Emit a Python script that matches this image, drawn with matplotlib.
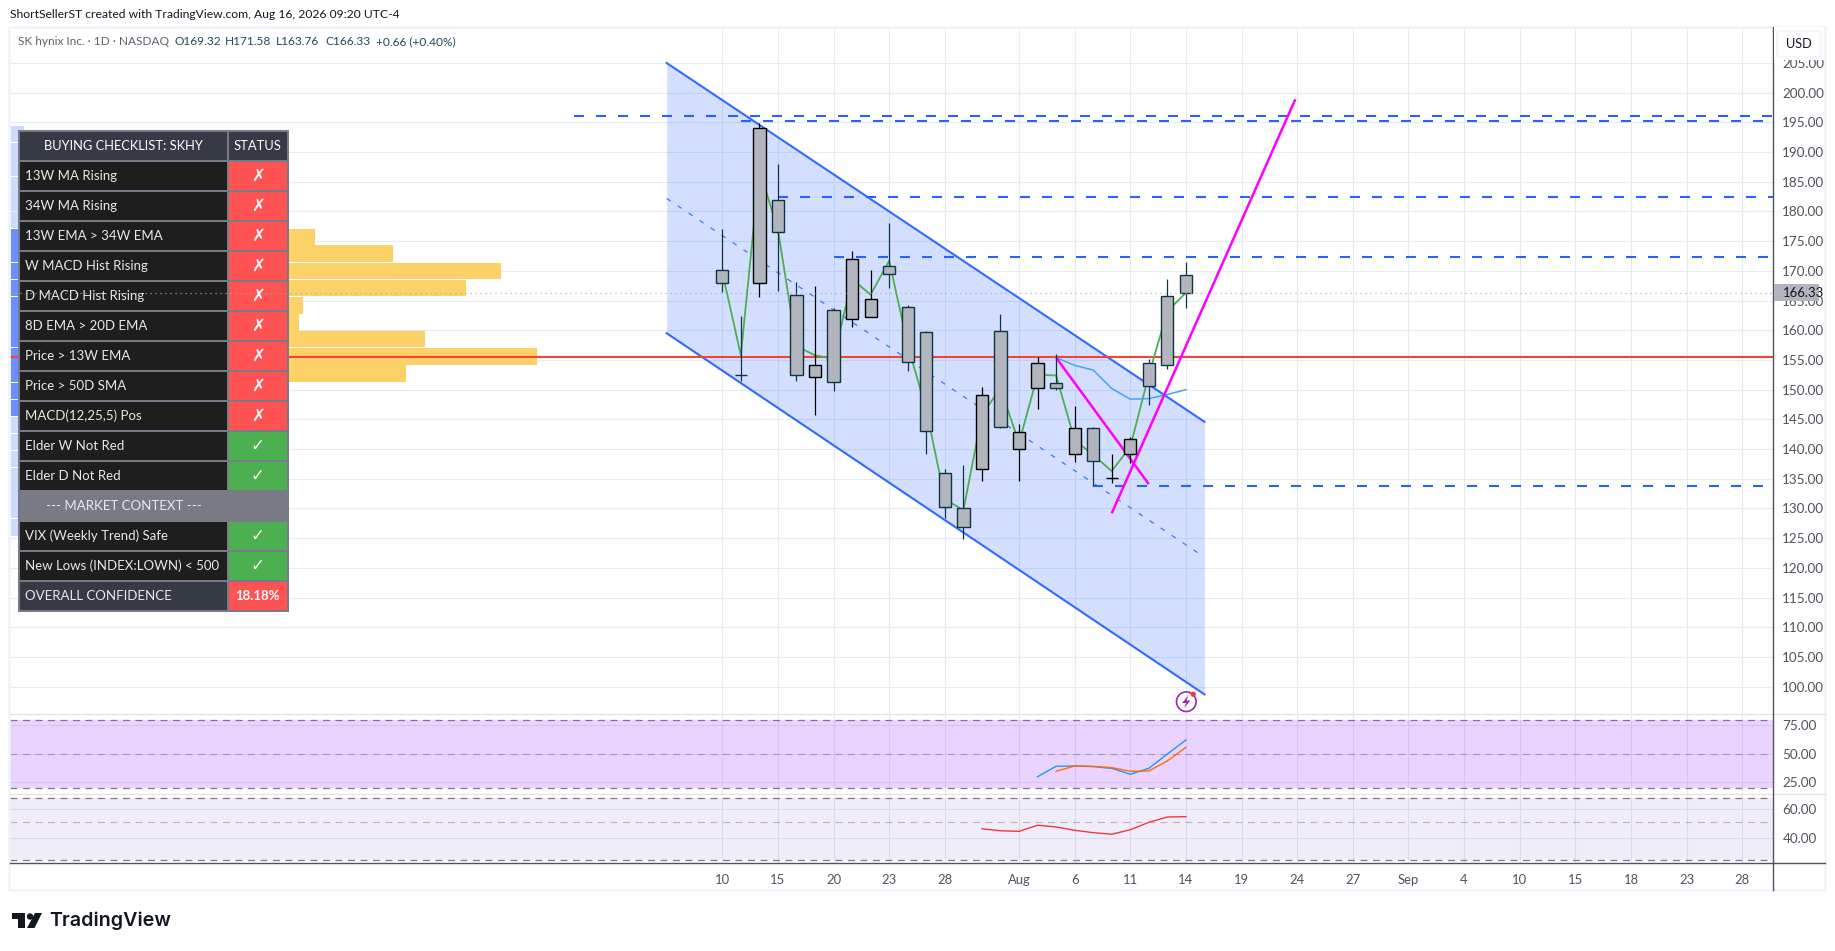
# skhy_chart.py
# TradingView style chart of SK hynix with the buying checklist table

import numpy as np
import matplotlib
matplotlib.use('Agg')
import matplotlib.pyplot as plt
from matplotlib.patches import Rectangle, Circle, Polygon, FancyBboxPatch
from matplotlib.ticker import FormatStrFormatter

# --- Data ---
bar_idx = list(range(26))
opens = [170.15, 152.5, 168.0, 181.9, 165.9, 152.1, 163.4, 161.85, 162.2, 170.8, 163.9, 159.66, 135.9,
         130.0, 136.6, 159.8, 140.0, 150.25, 151.1, 139.1, 143.5, 135.1, 139.2, 154.45, 165.7, 169.32]
highs = [177.05, 162.4, 194.85, 188.0, 168.2, 167.5, 163.75, 173.35, 170.15, 178.0, 164.25, 159.8, 136.65,
         137.3, 150.45, 162.75, 144.2, 155.55, 156.0, 147.25, 143.7, 139.1, 142.1, 155.15, 168.65, 171.58]
lows = [166.45, 151.5, 165.65, 166.67, 151.5, 145.8, 149.8, 160.6, 162.2, 167.2, 153.2, 139.2, 128.4,
        124.9, 134.7, 143.6, 134.7, 146.8, 149.95, 137.9, 133.8, 134.35, 137.6, 147.5, 153.5, 163.76]
closes = [168.0, 152.45, 194.0, 176.5, 152.4, 154.1, 151.25, 172.0, 165.2, 169.5, 154.6, 143.0, 130.2,
          126.8, 149.06, 143.8, 142.8, 154.45, 150.25, 143.5, 137.95, 135.15, 141.65, 150.7, 154.1, 166.33]
line_vals = [169.8, 155.8, 187.0, 176.9, 157.3, 155.8, 155.2, 168.6, 166.0, 171.7, 157.5, 146.6, 131.6,
             129.7, 145.7, 150.3, 141.0, 152.5, 152.4, 141.5, 139.0, 136.3, 140.4, 152.5, 163.2, 166.33]

ma_idx = [18, 19, 20, 21, 22, 23, 24, 25]
ma_vals = [155.4, 154.1, 153.3, 150.2, 148.4, 148.5, 149.2, 150.0]

stoch_k_idx = [17, 18, 19, 20, 21, 22, 23, 24, 25]
stoch_k = [30.1, 39.2, 39.5, 38.9, 37.4, 32.2, 37.4, 50.0, 62.3]
stoch_d_idx = [18, 19, 20, 21, 22, 23, 24, 25]
stoch_d = [34.8, 39.5, 39.2, 38.0, 34.8, 35.1, 43.9, 55.9]
rsi_idx = [14, 15, 16, 17, 18, 19, 20, 21, 22, 23, 24, 25]
rsi_vals = [46.6, 45.2, 44.8, 49.0, 47.8, 45.5, 43.9, 42.8, 45.9, 51.0, 54.7, 54.9]

# drawn objects: (bar start, bar end, price)
level_lines = [(-8, 56.7, 196.1), (1, 56.1, 195.3), (3, 56.7, 182.45), (6, 56.4, 172.4), (20, 56.2, 133.8)]
red_level = 155.5
channel_x = [-3, 26]
channel_top = [205.0, 144.6]
channel_mid = [182.2, 121.8]
channel_low = [159.5, 98.7]
magenta_1_x, magenta_1_p = [18, 23], [155.4, 134.1]
magenta_2_x, magenta_2_p = [21, 30.9], [129.2, 198.9]

# volume profile, k = row from the top
vp_levels = [193.0, 190.1, 187.3, 184.4, 181.5, 178.6, 175.7, 172.9, 170.0, 167.1, 164.2, 161.3,
             158.5, 155.6, 152.7, 149.8, 146.9, 144.1, 141.2, 138.3, 135.4, 132.5, 129.7, 126.8]
vp_blue = [13] * 6 + [30] * 11 + [13] * 7
vp_orange = [0] * 6 + [275, 353, 461, 426, 263, 259, 385, 497, 366] + [0] * 9

tick_idx = [0, 3, 6, 9, 12, 16, 19, 22, 25, 28, 31, 34, 37, 40, 43, 46, 49, 52, 55]
tick_labels = ['10', '15', '20', '23', '28', 'Aug', '6', '11', '14', '19', '24', '27', 'Sep', '4',
               '10', '15', '18', '23', '28']
price_ticks = list(range(100, 210, 5))

check_names = ['13W MA Rising', '34W MA Rising', '13W EMA > 34W EMA', 'W MACD Hist Rising', 'D MACD Hist Rising',
               '8D EMA > 20D EMA', 'Price > 13W EMA', 'Price > 50D SMA', 'MACD(12,25,5) Pos', 'Elder W Not Red',
               'Elder D Not Red', '--- MARKET CONTEXT ---', 'VIX (Weekly Trend) Safe', 'New Lows (INDEX:LOWN) < 500',
               'OVERALL CONFIDENCE']
check_status = ['x', 'x', 'x', 'x', 'x', 'x', 'x', 'x', 'x', 'v', 'v', '', 'v', 'v', '18.18%']

# --- Layout (pixels of the 1835x951 picture) ---
W, H = 1835, 951
PANE_L, PANE_R = 10, 1773.3
BAR_PX = 18.545
X0_PX = 722.3
BLUE = '#2962ff'
GRID = '#e1ecf3'
FONT = 'Lato'
plt.rcParams['font.family'] = [FONT, 'DejaVu Sans']
plt.rcParams['lines.scale_dashes'] = False


def rect_px(l, t, r, b):
    return [l / W, 1 - b / H, (r - l) / W, (b - t) / H]


def py(price):
    return 360 - (price - 155) * 5.94


fig = plt.figure(figsize=(W / 100, H / 100), dpi=100, facecolor='white')
ax = fig.add_axes(rect_px(PANE_L, 27, PANE_R, 714.3))
ax2 = fig.add_axes(rect_px(PANE_L, 714.3, PANE_R, 793.5), sharex=ax)
ax3 = fig.add_axes(rect_px(PANE_L, 793.5, PANE_R, 863.3), sharex=ax)

xmin = (PANE_L - X0_PX) / BAR_PX
xmax = (PANE_R - X0_PX) / BAR_PX
ax.set_xlim(xmin, xmax)
ax.set_ylim(95.35, 211.06)
ax2.set_ylim(15.35, 84.8)
ax3.set_ylim(22.76, 70.9)

for a in (ax, ax2, ax3):
    for s in a.spines.values():
        s.set_visible(False)
    a.set_axisbelow(True)
    a.grid(True, color=GRID, lw=0.8, zorder=0)
    a.yaxis.tick_right()
    a.yaxis.set_major_formatter(FormatStrFormatter('%.2f'))
    a.tick_params(axis='y', length=0, pad=6.5, labelsize=9.7, labelcolor='#50535e')
    a.tick_params(axis='x', length=0, labelbottom=False)
    a.set_xticks(tick_idx)

ax.set_yticks(price_ticks)
ax2.set_yticks([25, 50, 75])
ax3.set_yticks([40, 60])
ax3.set_xticklabels(tick_labels)
ax3.tick_params(axis='x', labelbottom=True, pad=7.5, labelsize=9.4, labelcolor='#50535e')

# --- Main pane ---
ax.barh(vp_levels, np.array(vp_blue) / BAR_PX, left=xmin + 0.04, height=2.75, zorder=1,
        color=['#6b8fff' if v > 13 else '#cdd9fd' for v in vp_blue])
ax.barh(vp_levels, np.array(vp_orange) / BAR_PX, left=xmin + np.array(vp_blue) / BAR_PX, height=2.75,
        color='#fbd168', zorder=1)

ax.fill_between(channel_x, channel_low, channel_top, color=BLUE, alpha=0.2, lw=0, zorder=1.2)
ax.plot(channel_x, channel_top, color=BLUE, lw=1.5, zorder=1.5, alpha=0.95)
ax.plot(channel_x, channel_low, color=BLUE, lw=1.5, zorder=1.5, alpha=0.95)
ax.plot(channel_x, channel_mid, color=BLUE, lw=0.9, ls=(0, (3.5, 6)), zorder=1.5, alpha=0.85)

for x0, x1, p in level_lines:
    ax.plot([x0, x1], [p, p], color=BLUE, lw=1.5, ls=(0, (7.2, 8.64)), dash_capstyle='butt', zorder=1.6)
ax.axhline(red_level, color='#f44336', lw=1.5, zorder=1.7)

ax.plot(bar_idx, line_vals, color='#4caf50', lw=1.3, zorder=1.8)
ax.plot(ma_idx, ma_vals, color='#42a5f5', lw=1.1, zorder=1.8)
ax.plot(magenta_1_x, magenta_1_p, color='#ff00ff', lw=1.8, zorder=1.9, solid_capstyle='butt')
ax.plot(magenta_2_x, magenta_2_p, color='#ff00ff', lw=1.8, zorder=1.9, solid_capstyle='butt')

# candles, black edge when close is above open
edge = ['#000000' if c >= o else '#0d3640' for o, c in zip(opens, closes)]
body_lo = np.minimum(opens, closes)
body_hi = np.maximum(opens, closes)
ax.vlines(bar_idx, lows, highs, colors=edge, lw=0.9, zorder=2)
ax.bar(bar_idx, body_hi - body_lo, bottom=body_lo, width=0.66, color='#b2b5be', edgecolor=edge, lw=1.0, zorder=2.1)

# --- Indicator panes ---
ax2.axhspan(20, 80, color='#9c27ff', alpha=0.2, lw=0, zorder=1)
ax2.axhline(80, color='#787b86', lw=0.9, ls=(0, (5, 4)), zorder=1.5)
ax2.axhline(20, color='#787b86', lw=0.9, ls=(0, (5, 4)), zorder=1.5)
ax2.axhline(50, color='#787b86', lw=0.8, ls=(0, (5, 4)), alpha=0.6, zorder=1.5)
ax2.plot(stoch_k_idx, stoch_k, color='#2196f3', lw=1, zorder=2)
ax2.plot(stoch_d_idx, stoch_d, color='#ff6d00', lw=1, zorder=2)

ax3.axhspan(25.2, 68, color='#7e57c2', alpha=0.1, lw=0, zorder=1)
ax3.axhline(68, color='#787b86', lw=0.9, ls=(0, (5, 4)), zorder=1.5)
ax3.axhline(25.2, color='#787b86', lw=0.9, ls=(0, (5, 4)), zorder=1.5)
ax3.axhline(51, color='#787b86', lw=0.8, ls=(0, (5, 4)), alpha=0.5, zorder=1.5)
ax3.plot(rsi_idx, rsi_vals, color='#f23645', lw=1, zorder=2)

# --- Overlay in picture pixels: frame, table, header ---
ov = fig.add_axes([0, 0, 1, 1], zorder=10)
ov.patch.set_visible(False)
ov.axis('off')

ov.add_patch(Rectangle((9, 27), 1816, 863, fill=False, ec='#f0f3fa', lw=1.8))
ov.plot([PANE_L, 1825], [714.3, 714.3], color='#e0e3eb', lw=0.9)
ov.plot([PANE_L, 1825], [793.5, 793.5], color='#e0e3eb', lw=0.9)
ov.plot([PANE_L, PANE_R], [863.3, 863.3], color='#50535e', lw=1)
ov.plot([PANE_R, PANE_R], [27, 890], color='#50535e', lw=1)
ov.plot([PANE_R, 1825], [863.3, 863.3], color='#50535e', lw=1)

# table
TL, TR, TM = 18.2, 289, 227.4
ROW_T, ROW_H = 131.7, 30
TABLE_FS = 9.5
ov.add_patch(Rectangle((TL, 130), TR - TL, 481.7, fc='#787b86', ec='none', zorder=3))


def cell(x0, x1, k, color):
    ov.add_patch(Rectangle((x0, ROW_T + ROW_H * k), x1 - x0, ROW_H - 1.6, fc=color, ec='none', zorder=3.1))


cell(TL + 2, TM - 0.8, 0, '#363a45')
cell(TM + 1.2, TR - 2, 0, '#363a45')
ov.text((TL + TM) / 2 + 1, ROW_T + 14.5, 'BUYING CHECKLIST: SKHY', color='white', fontsize=9.3, ha='center', va='center', zorder=4)
ov.text((TM + TR) / 2 - 0.5, ROW_T + 14.5, 'STATUS', color='white', fontsize=9.3, ha='center', va='center', zorder=4)
for k, (name, st) in enumerate(zip(check_names, check_status), start=1):
    y_mid = ROW_T + ROW_H * k + 14.5
    if name.startswith('---'):
        ov.text((TL + TM) / 2 + 1, y_mid, name, color='#e8e8e8', fontsize=TABLE_FS, ha='center', va='center', zorder=4)
        continue
    dark = '#363a45' if name.startswith('OVERALL') else '#1e1e1e'
    cell(TL + 2, TM - 0.8, k, dark)
    ov.text(25, y_mid, name, color='#e8e8e8', fontsize=TABLE_FS, ha='left', va='center', zorder=4)
    cell(TM + 1.2, TR - 2, k, '#4caf50' if st == 'v' else '#ff5252')
    if st == 'x':
        ov.text((TM + TR) / 2 - 0.5, y_mid, '\u2717', color='white', fontsize=12, family='DejaVu Sans',
                fontweight='bold', ha='center', va='center', zorder=4)
    elif st == 'v':
        ov.text((TM + TR) / 2 - 0.5, y_mid, '\u2713', color='white', fontsize=12, family='DejaVu Sans',
                fontweight='bold', ha='center', va='center', zorder=4)
    else:
        ov.text((TM + TR) / 2 - 0.5, y_mid, st, color='white', fontsize=9.5, fontweight='bold', ha='center', va='center', zorder=4)

# last close dotted line runs over the table
ov.plot([0, 1], [closes[-1], closes[-1]], transform=ax.get_yaxis_transform(), color='#a6a9b2', lw=0.9,
        ls=(0, (0.8, 2.8)), zorder=5)

# header texts
ov.text(9.5, 15, 'ShortSellerST created with TradingView.com, Aug 16, 2026 09:20 UTC-4', color='#131722', fontsize=8.75, va='center')
ov.text(17.8, 41.7, 'SK hynix Inc. \u00b7 1D \u00b7 NASDAQ', color='#5d606b', fontsize=8.6, va='center')
for x, s in [(174, 'O169.32'), (225, 'H171.58'), (276, 'L163.76'), (325, 'C166.33'), (375.6, '+0.66 (+0.40%)')]:
    ov.text(x, 41.7, s, color='#1b4d57', fontsize=8.6, va='center')

# price scale extras
ov.add_patch(Rectangle((PANE_R + 1, 27), 50, 33, fc='white', ec='none', zorder=2))
ov.add_patch(FancyBboxPatch((1779, 33), 40, 22, boxstyle='round,pad=2,rounding_size=3', fc='white', ec='#f0f3fa', lw=1, zorder=3))
ov.text(1799, 44.5, 'USD', color='#131722', fontsize=9.2, ha='center', va='center', zorder=4)
ov.add_patch(Rectangle((PANE_R + 0.5, py(closes[-1]) - 8.6), 45.5, 17, fc='#b2b5be', ec='none', zorder=3))
ov.text(1782.7, py(closes[-1]), f'{closes[-1]:.2f}', color='#131722', fontsize=9.4, va='center', zorder=4)

# bolt badge
ov.add_patch(Circle((1186.3, 701.7), 9.8, fill=False, ec='#9c27b0', lw=1.2))
ov.add_patch(Polygon([(1188.5, 695.5), (1182, 703), (1186, 703), (1184, 708), (1190.5, 700.5), (1186.5, 700.5)],
                     fc='#9c27b0', ec='none'))
ov.add_patch(Circle((1193.3, 694.3), 2.6, fc='#f23645', ec='none'))

# logo
ov.add_patch(Polygon([(12, 913), (25, 913), (25, 928), (17.5, 928), (17.5, 919), (12, 919)], fc='#131722', ec='none'))
ov.add_patch(Circle((30, 916.5), 3.2, fc='#131722', ec='none'))
ov.add_patch(Polygon([(35, 913), (42, 913), (34.5, 928), (27, 928)], fc='#131722', ec='none'))
ov.text(49, 921, 'TradingView', color='#131722', fontsize=14.2, family='Inter', fontweight='semibold', va='center')

ov.set_xlim(0, W)
ov.set_ylim(H, 0)

fig.savefig('out.png', dpi=100)
